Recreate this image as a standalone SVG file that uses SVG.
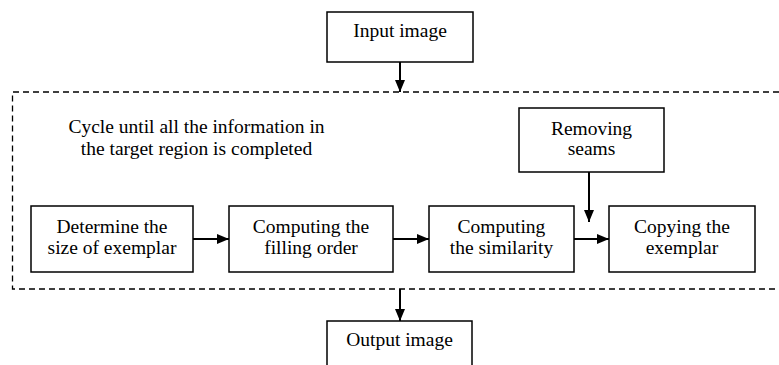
<svg xmlns="http://www.w3.org/2000/svg" width="779" height="365" viewBox="0 0 779 365">
<defs>
<marker id="ah" viewBox="0 0 12 10" refX="12" refY="5" markerWidth="12" markerHeight="10" markerUnits="userSpaceOnUse" orient="auto">
<path d="M0,0 L12,5 L0,10 Z" fill="#000"/>
</marker>
</defs>
<rect width="779" height="365" fill="#fff"/>
<g id="cycle">
<path d="M779,92 H12.5 V289 H779" stroke="#000" stroke-width="1.3" fill="none" stroke-dasharray="6 4"/>
<text font-family="Liberation Serif" font-size="19.5" text-anchor="middle" x="196.5" y="133">Cycle until all the information in</text>
<text font-family="Liberation Serif" font-size="19.5" text-anchor="middle" x="196.5" y="155">the target region is completed</text>
</g>
<g id="input"><rect x="327" y="12" width="146" height="50" fill="#fff" stroke="#000" stroke-width="1.5"/><text font-family="Liberation Serif" font-size="19.5" text-anchor="middle" x="400" y="37">Input image</text></g>
<g id="size"><rect x="31" y="206" width="162" height="66" fill="#fff" stroke="#000" stroke-width="1.5"/><text font-family="Liberation Serif" font-size="19.5" text-anchor="middle" x="112" y="233">Determine the</text><text font-family="Liberation Serif" font-size="19.5" text-anchor="middle" x="112" y="254">size of exemplar</text></g>
<g id="order"><rect x="229" y="206" width="164" height="66" fill="#fff" stroke="#000" stroke-width="1.5"/><text font-family="Liberation Serif" font-size="19.5" text-anchor="middle" x="311" y="233">Computing the</text><text font-family="Liberation Serif" font-size="19.5" text-anchor="middle" x="311" y="254">filling order</text></g>
<g id="similarity"><rect x="429" y="206" width="145" height="66" fill="#fff" stroke="#000" stroke-width="1.5"/><text font-family="Liberation Serif" font-size="19.5" text-anchor="middle" x="501.5" y="233">Computing</text><text font-family="Liberation Serif" font-size="19.5" text-anchor="middle" x="501.5" y="254">the similarity</text></g>
<g id="copy"><rect x="609" y="206" width="146" height="66" fill="#fff" stroke="#000" stroke-width="1.5"/><text font-family="Liberation Serif" font-size="19.5" text-anchor="middle" x="682" y="233">Copying the</text><text font-family="Liberation Serif" font-size="19.5" text-anchor="middle" x="682" y="254">exemplar</text></g>
<g id="seams"><rect x="519" y="108" width="145" height="64" fill="#fff" stroke="#000" stroke-width="1.5"/><text font-family="Liberation Serif" font-size="19.5" text-anchor="middle" x="591.5" y="135">Removing</text><text font-family="Liberation Serif" font-size="19.5" text-anchor="middle" x="591.5" y="155">seams</text></g>
<g id="output"><rect x="327" y="321" width="145" height="60" fill="#fff" stroke="#000" stroke-width="1.5"/><text font-family="Liberation Serif" font-size="19.5" text-anchor="middle" x="399.5" y="346">Output image</text></g>
<g id="connectors" stroke="#000" stroke-width="2" fill="none" marker-end="url(#ah)">
<path d="M400,62 V92" marker-end="url(#ah)"/>
<path d="M193,239 H229" marker-end="url(#ah)"/>
<path d="M393,239 H429" marker-end="url(#ah)"/>
<path d="M574,239 H609" marker-end="url(#ah)"/>
<path d="M589,172 V222" marker-end="url(#ah)"/>
<path d="M400,289 V321" marker-end="url(#ah)"/>
</g>
</svg>
